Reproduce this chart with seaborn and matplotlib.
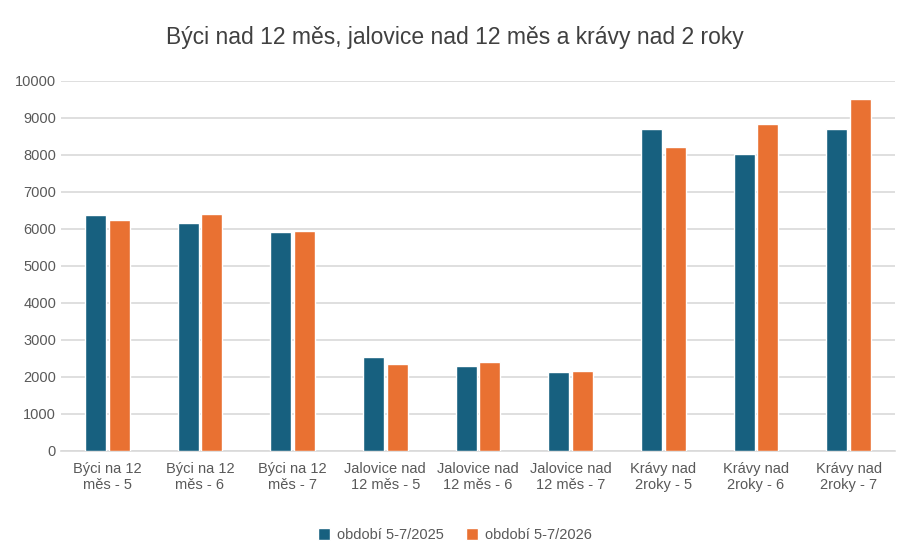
import pandas as pd
import matplotlib.pyplot as plt
import seaborn as sns

# Data
kategorie = ['Býci na 12\nměs - 5', 'Býci na 12\nměs - 6', 'Býci na 12\nměs - 7',
             'Jalovice nad\n12 měs - 5', 'Jalovice nad\n12 měs - 6', 'Jalovice nad\n12 měs - 7',
             'Krávy nad\n2roky - 5', 'Krávy nad\n2roky - 6', 'Krávy nad\n2roky - 7']
obdobi_2025 = [6380, 6150, 5910, 2540, 2290, 2120, 8690, 8030, 8700]
obdobi_2026 = [6250, 6400, 5930, 2340, 2400, 2150, 8210, 8830, 9500]
serie = ['období 5-7/2025', 'období 5-7/2026']

df = pd.DataFrame({
    'kategorie': kategorie * 2,
    'hodnota': obdobi_2025 + obdobi_2026,
    'obdobi': [serie[0]] * len(kategorie) + [serie[1]] * len(kategorie),
})

sns.set_style('white')
plt.rcParams['font.family'] = ['Liberation Sans', 'DejaVu Sans']

fig = plt.figure(figsize=(9.1, 5.51), dpi=100)
ax = fig.add_axes([0.067, 0.1815, 0.9165, 0.672])

sns.barplot(data=df, x='kategorie', y='hodnota', hue='obdobi',
            palette=['#17607f', '#e97132'], width=0.507, gap=0.11,
            saturation=1, errorbar=None, ax=ax, zorder=3)

ax.set_ylim(0, 10000)
ax.set_xlim(-0.5, 8.5)
ax.set_yticks(range(0, 10001, 1000))
ax.yaxis.grid(True, color='#d9d9d9', linewidth=1.2, zorder=0)
ax.set_axisbelow(True)
for s in ['top', 'right', 'left']:
    ax.spines[s].set_visible(False)
ax.spines['bottom'].set_color('#d9d9d9')
ax.spines['bottom'].set_linewidth(1.2)
ax.tick_params(axis='both', length=0, labelsize=10.5, labelcolor='#595959')
ax.tick_params(axis='x', pad=8)
ax.set_xlabel('')
ax.set_ylabel('')

fig.suptitle('Býci nad 12 měs, jalovice nad 12 měs a krávy nad 2 roky',
             x=0.5, y=0.952, fontsize=16.5, color='#404040')

handles, labels = ax.get_legend_handles_labels()
ax.get_legend().remove()
fig.legend(handles, labels, loc='center', bbox_to_anchor=(0.5, 0.029), ncol=2,
           frameon=False, fontsize=10.5, handlelength=0.8, handleheight=0.8,
           handletextpad=0.5, columnspacing=1.5, labelcolor='#595959')

plt.savefig('out.png', dpi=100)
